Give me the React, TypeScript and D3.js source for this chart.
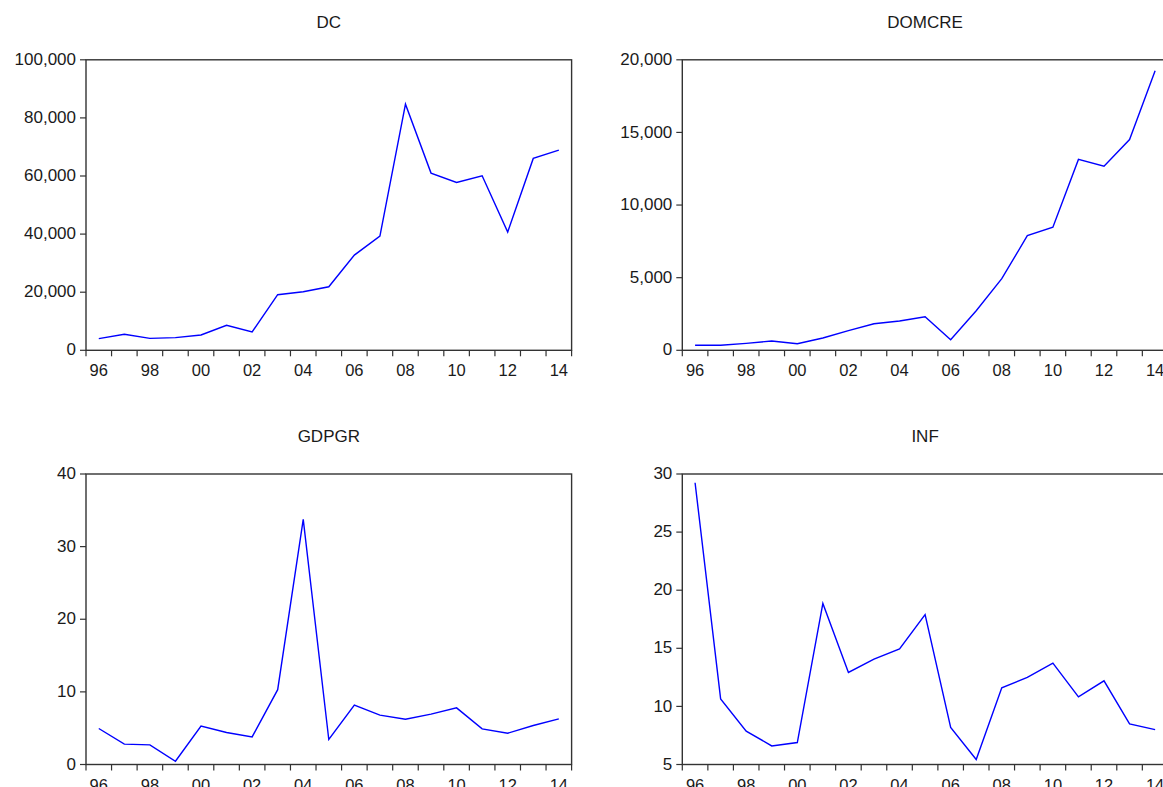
import * as d3 from "d3"

const years = ["96", "97", "98", "99", "00", "01", "02", "03", "04", "05", "06", "07", "08", "09", "10", "11", "12", "13", "14"]

const dcValues = [4000, 5500, 4100, 4350, 5260, 8600, 6300, 19130, 20160, 21880, 32780, 39320, 84730, 61000, 57790, 60060, 40700, 66050, 68900]
const domcreValues = [350, 350, 480, 640, 455, 845, 1350, 1830, 2015, 2310, 730, 2725, 4930, 7890, 8480, 13140, 12680, 14510, 19240]
const gdpgrValues = [4.96, 2.8, 2.7, 0.45, 5.28, 4.4, 3.8, 10.3, 33.76, 3.44, 8.17, 6.79, 6.24, 6.93, 7.8, 4.91, 4.31, 5.37, 6.28]
const infValues = [29.25, 10.65, 7.87, 6.6, 6.89, 18.86, 12.92, 14.07, 14.95, 17.9, 8.19, 5.43, 11.6, 12.49, 13.72, 10.82, 12.2, 8.5, 8.0]

const dcTicks = [0, 20000, 40000, 60000, 80000, 100000]
const domcreTicks = [0, 5000, 10000, 15000, 20000]
const gdpgrTicks = [0, 10, 20, 30, 40]
const infTicks = [5, 10, 15, 20, 25, 30]

const FONT = "'Liberation Sans', Arial, sans-serif"
const TEXT = "#1a1a1a"
const FRAME = "#333"

type PanelProps = {
    title: string
    values: number[]
    ticks: number[]
    left: number
    top: number
}

const PANEL_W = 485.6
const PANEL_H = 290.5

function Panel({ title, values, ticks, left, top }: PanelProps) {
    const x = d3.scaleBand<string>().domain(years).range([left, left + PANEL_W]).padding(0)
    const y = d3.scaleLinear()
        .domain([ticks[0], ticks[ticks.length - 1]])
        .range([top + PANEL_H, top])
    const fmt = d3.format(",")
    const line = d3.line<number>()
        .x((_, i) => (x(years[i]) ?? 0) + x.bandwidth() / 2)
        .y(d => y(d))

    const bottom = top + PANEL_H
    const boundaries = years.map(yr => x(yr) ?? 0).concat([left + PANEL_W])

    return (
        <g>
            <text x={left + PANEL_W / 2} y={top - 32} textAnchor="middle"
                fontSize={17} fill={TEXT} fontFamily={FONT}>{title}</text>
            <rect x={left} y={top} width={PANEL_W} height={PANEL_H}
                fill="none" stroke={FRAME} strokeWidth={1.4} />
            {ticks.map(t => (
                <g key={t}>
                    <line x1={left - 6} x2={left} y1={y(t)} y2={y(t)} stroke={FRAME} strokeWidth={1.2} />
                    <text x={left - 10} y={y(t)} dy="0.3em" textAnchor="end"
                        fontSize={17} fill={TEXT} fontFamily={FONT}>{fmt(t)}</text>
                </g>
            ))}
            {boundaries.map((bx, i) => (
                <line key={i} x1={bx} x2={bx} y1={bottom} y2={bottom + 6} stroke={FRAME} strokeWidth={1.2} />
            ))}
            {years.filter((_, i) => i % 2 === 0).map(yr => (
                <text key={yr} x={(x(yr) ?? 0) + x.bandwidth() / 2} y={bottom + 26}
                    textAnchor="middle" fontSize={16.5} fill={TEXT} fontFamily={FONT}>{yr}</text>
            ))}
            <path d={line(values) ?? ""} fill="none" stroke="#0000ff" strokeWidth={1.4} />
        </g>
    )
}

export default function App() {
    return (
        <svg width={1163} height={787}
            style={{ position: "absolute", left: 0, top: 0, background: "#fff" }}>
            <rect width={1163} height={787} fill="#fff" />
            <Panel title="DC" values={dcValues} ticks={dcTicks} left={86} top={59.8} />
            <Panel title="DOMCRE" values={domcreValues} ticks={domcreTicks} left={682.3} top={59.8} />
            <Panel title="GDPGR" values={gdpgrValues} ticks={gdpgrTicks} left={86} top={474} />
            <Panel title="INF" values={infValues} ticks={infTicks} left={682.3} top={474} />
        </svg>
    )
}
